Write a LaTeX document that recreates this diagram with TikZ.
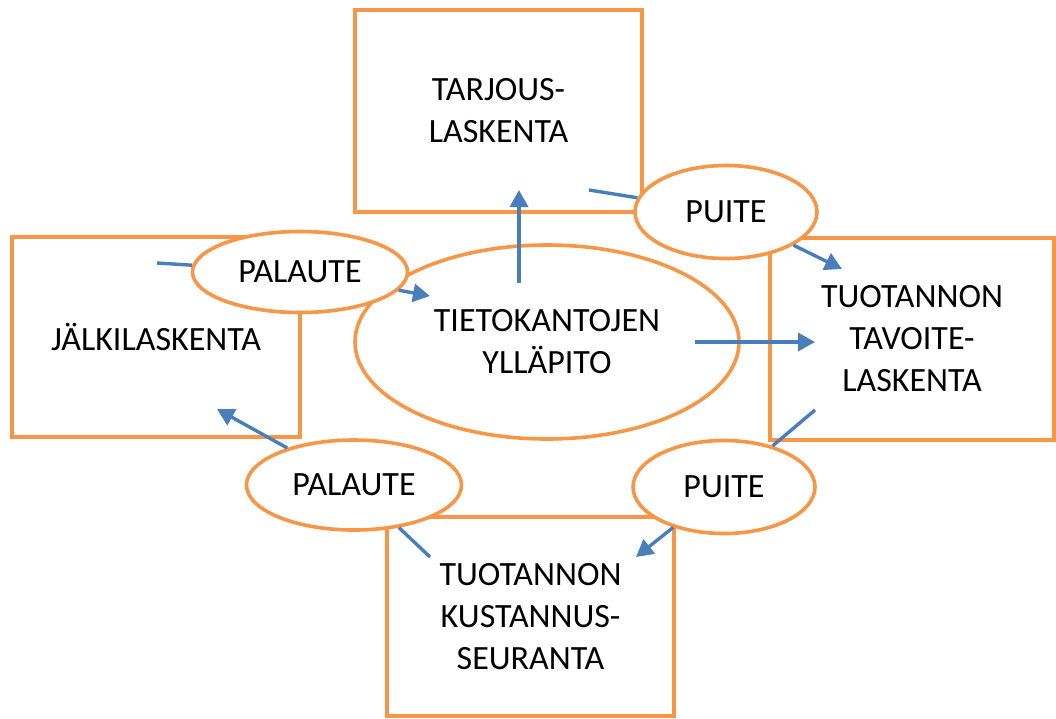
\documentclass[tikz,border=0pt]{standalone}
\usepackage{fontspec}
\setmainfont{Carlito}
\usetikzlibrary{arrows.meta,shapes.geometric}
\definecolor{frame}{HTML}{F79646}
\definecolor{flow}{HTML}{4A7EBB}
\tikzset{
  stage/.style={draw=frame, line width=3.6pt, fill=white, rectangle, inner sep=0pt,
    align=center, font=\fontsize{34}{42}\selectfont},
  bubble/.style={draw=frame, line width=3.6pt, fill=white, ellipse, inner sep=0pt,
    align=center, font=\fontsize{34}{42}\selectfont},
  link/.style={draw=flow, line width=3.4pt},
  push/.style={link, -{Triangle[length=17pt,width=18pt]}},
}
\begin{document}
\begin{tikzpicture}[x=1pt,y=-1pt]
\useasboundingbox (0,0) rectangle (1056,718);
% the four calculation stages
\node[stage, minimum width=287pt, minimum height=202pt] (offer) at (498.5,111) {TARJOUS-\\LASKENTA};
\node[stage, minimum width=288pt, minimum height=200pt] (post) at (156,337) {JÄLKILASKENTA};
\node[stage, minimum width=284pt, minimum height=202pt] (target) at (912,339) {TUOTANNON\\TAVOITE-\\LASKENTA};
\node[stage, minimum width=287pt, minimum height=199pt] (cost) at (530.5,616.5) {TUOTANNON\\KUSTANNUS-\\SEURANTA};
% shared databases in the middle
\node[bubble, minimum width=384pt, minimum height=194pt] (db) at (547,342) {TIETOKANTOJEN\\YLLÄPITO};
% end points of the flows
\coordinate (upS) at (519,283);
\coordinate (upE) at (519,190);
\coordinate (rtS) at (695,342);
\coordinate (rtE) at (815,342);
\coordinate (offOut) at (589,190);
\coordinate (tgtIn) at (842,269);
\coordinate (tgtOut) at (815,410);
\coordinate (costIn) at (636,557);
\coordinate (costOut) at (430,557);
\coordinate (postIn) at (217,409);
\coordinate (postOut) at (157,263);
\coordinate (dbIn) at (430,296);
% frame and feedback bubbles between the stages
\node[bubble, minimum width=182pt, minimum height=93pt] (frameA) at (726,212) {PUITE};
\node[bubble, minimum width=215pt, minimum height=81pt] (backA) at (300,272) {PALAUTE};
\node[bubble, minimum width=182pt, minimum height=93pt] (frameB) at (724,487) {PUITE};
\node[bubble, minimum width=215pt, minimum height=90pt] (backB) at (354,485) {PALAUTE};
% flows
\draw[push] (upS) -- (upE);
\draw[push] (rtS) -- (rtE);
\draw[link] (offOut) -- (frameA);
\draw[push] (frameA) -- (tgtIn);
\draw[link] (tgtOut) -- (frameB);
\draw[push] (frameB) -- (costIn);
\draw[link] (costOut) -- (backB);
\draw[push] (backB) -- (postIn);
\draw[link] (postOut) -- (backA);
\draw[push] (backA) -- (dbIn);
\end{tikzpicture}
\end{document}
